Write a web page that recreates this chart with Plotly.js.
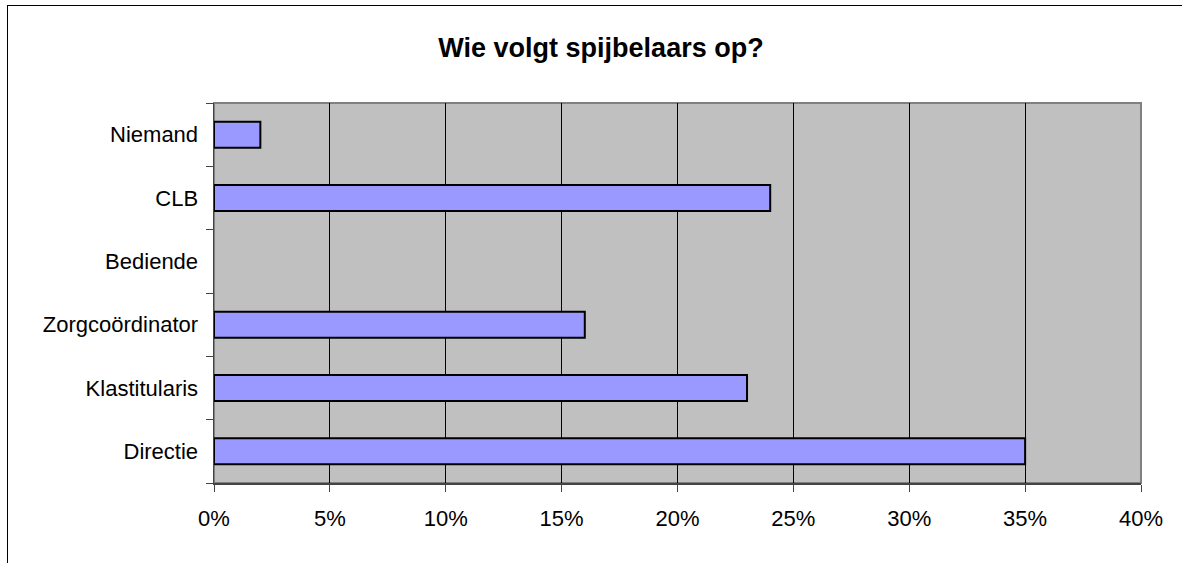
<!DOCTYPE html>
<html>
<head>
<meta charset="utf-8">
<script src="https://cdn.plot.ly/plotly-3.0.1.min.js"></script>
<style>
  html, body { margin: 0; padding: 0; background: #fff; overflow: hidden; }
  #wrap { position: relative; width: 1184px; height: 563px; }
  #chart { width: 1184px; height: 563px; }
  #frame { position: absolute; left: 7px; top: 5px; width: 1174px; height: 600px;
           border-left: 1.5px solid #000; border-top: 1.5px solid #000; pointer-events: none; }
</style>
</head>
<body>
<div id="wrap">
  <div id="chart"></div>
  <div id="frame"></div>
</div>
<script>
const categories = ["Directie", "Klastitularis", "Zorgcoördinator", "Bediende", "CLB", "Niemand"];
const values = [0.35, 0.23, 0.16, 0, 0.24, 0.02];
const titleText = "Wie volgt spijbelaars op?";

const trace = {
  type: "bar",
  orientation: "h",
  y: categories,
  x: values,
  width: 0.41,
  marker: {
    color: "#9999FF",
    line: { color: "#000000", width: values.map(v => (v > 0 ? 2 : 0)) }
  },
  hoverinfo: "x+y"
};

const layout = {
  width: 1184,
  height: 563,
  margin: { l: 214, r: 43, t: 103, b: 80, pad: 0 },
  paper_bgcolor: "#ffffff",
  plot_bgcolor: "#C0C0C0",
  font: { family: "Liberation Sans, Arial, sans-serif", size: 22, color: "#000" },
  title: {
    text: "<b>" + titleText + "</b>",
    font: { family: "Liberation Sans, Arial, sans-serif", size: 27, color: "#000" },
    x: 601 / 1184, xref: "container", xanchor: "center",
    y: 1 - 48 / 563, yref: "container", yanchor: "middle"
  },
  showlegend: false,
  bargap: 0.59,
  xaxis: {
    range: [0, 0.4],
    dtick: 0.05,
    tick0: 0,
    tickformat: ".0%",
    showgrid: true,
    gridcolor: "#000000",
    gridwidth: 1,
    zeroline: false,
    showline: true,
    linecolor: "#444444",
    linewidth: 1.5,
    ticks: "outside",
    ticklen: 7,
    tickcolor: "#444444",
    tickwidth: 1,
    ticklabelstandoff: 8,
    fixedrange: true
  },
  yaxis: {
    type: "category",
    categoryorder: "array",
    categoryarray: categories,
    showgrid: false,
    zeroline: false,
    showline: true,
    linecolor: "#444444",
    linewidth: 1.5,
    ticks: "outside",
    tickson: "boundaries",
    ticklen: 7,
    tickcolor: "#444444",
    tickwidth: 1,
    ticklabelstandoff: 10,
    fixedrange: true
  },
  shapes: [
    { type: "rect", xref: "paper", yref: "paper", x0: 0, x1: 1, y0: 0, y1: 1,
      line: { color: "#808080", width: 2 }, fillcolor: "rgba(0,0,0,0)", layer: "below" }
  ]
};

Plotly.newPlot("chart", [trace], layout, { displayModeBar: false, staticPlot: true });
</script>
</body>
</html>
